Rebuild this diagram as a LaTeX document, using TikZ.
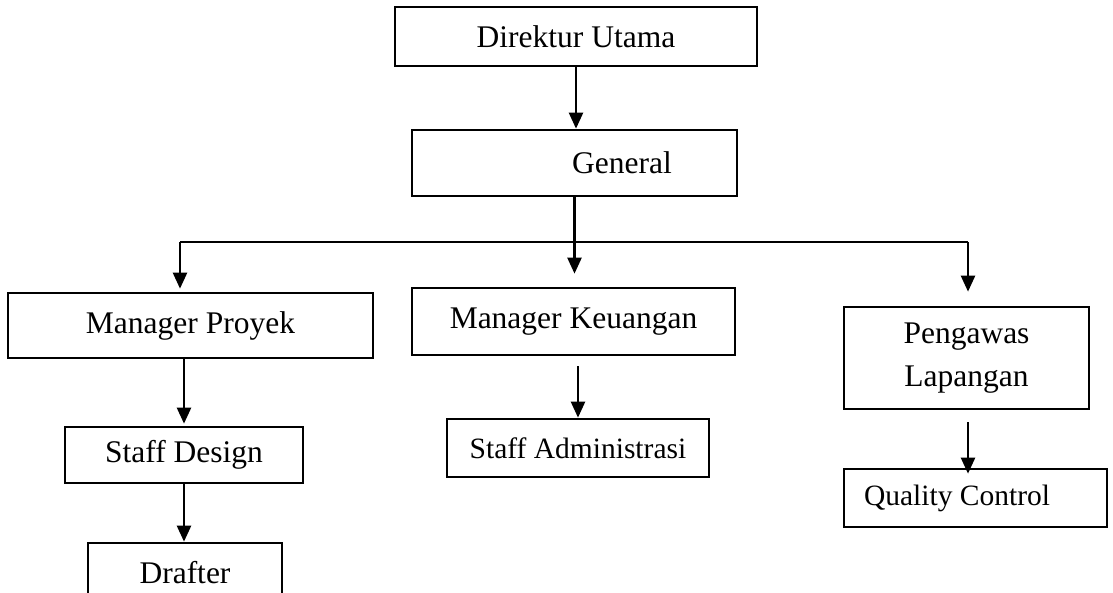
\documentclass[tikz,border=0pt]{standalone}
\usepackage{fontspec}
\setmainfont{Liberation Serif}
\usetikzlibrary{arrows.meta}
\begin{document}
\begin{tikzpicture}[x=1pt,y=-1pt,
  box/.style={draw, line width=2.7pt, rectangle, inner sep=0pt, font=\fontsize{31.5}{43}\selectfont},
  sbox/.style={box, font=\fontsize{29.5}{40}\selectfont},
  arr/.style={line width=2.4pt, -{Triangle[width=14pt,length=16pt]}},
  ln/.style={line width=2.4pt}]
\useasboundingbox (0,0) rectangle (1113,592);
\node[box, minimum width=362pt, minimum height=59pt] (dir) at (576,36.5) {Direktur Utama};
\node[box, minimum width=325pt, minimum height=66pt] (gen) at (574.5,163) {\hspace*{95pt}General};
\node[box, minimum width=365pt, minimum height=65pt] (mp) at (190.5,325.5) {Manager Proyek};
\node[box, minimum width=323pt, minimum height=67pt] (mk) at (573.5,321.5) {Manager Keuangan};
\node[box, minimum width=245pt, minimum height=102pt, align=center] (pl) at (966.5,358) {Pengawas\\Lapangan};
\node[box, minimum width=238pt, minimum height=56pt] (sd) at (184,455) {Staff Design};
\node[sbox, minimum width=262pt, minimum height=58pt] (sa) at (578,448) {Staff Administrasi};
\node[sbox, minimum width=263pt, minimum height=58pt] (qc) at (975.5,498) {Quality Control\hspace*{37pt}};
\node[box, minimum width=194pt, minimum height=60pt] (dr) at (185,573) {Drafter};
\coordinate (barL) at (180,242);
\coordinate (barR) at (968,242);
\draw[arr] (dir.south) -- (dir.south |- gen.north);
\draw[arr, shorten >=13pt] (gen.south) -- (gen.south |- mk.north);
\draw[ln] (barL) -- (barR);
\draw[arr, shorten >=3pt] (barL) -- (barL |- mp.north);
\draw[arr, shorten >=14pt] (barR) -- (barR |- pl.north);
\draw[arr, shorten >=2pt] (sd.north |- mp.south) -- (sd.north);
\draw[arr] (sd.south) -- (sd.south |- dr.north);
\draw[arr, shorten <=10pt] (sa.north |- mk.south) -- (sa.north);
\draw[arr, shorten <=12pt, shorten >=-6pt] (barR |- pl.south) -- (barR |- qc.north);
\end{tikzpicture}
\end{document}
